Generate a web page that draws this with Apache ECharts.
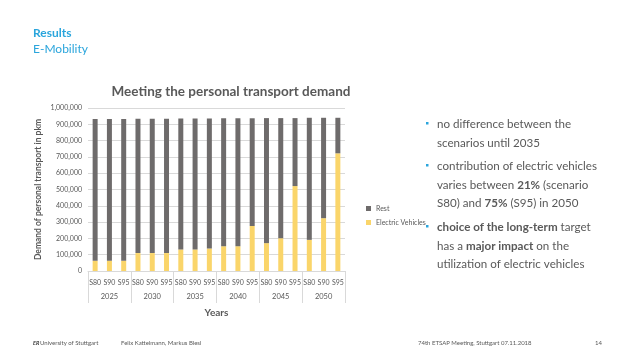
<!DOCTYPE html>
<html><head><meta charset="utf-8">
<script src="https://cdn.jsdelivr.net/npm/echarts@6/dist/echarts.min.js"></script>
<style>html,body{margin:0;padding:0;background:#fff}#c{width:638px;height:359px}</style>
</head><body><div id="c"></div>
<script>
const years = ['2025','2030','2035','2040','2045','2050'];
const scenarios = ['S80','S90','S95','S80','S90','S95','S80','S90','S95','S80','S90','S95','S80','S90','S95','S80','S90','S95'];
const electricVehicles = [63000,63000,63000, 110000,110000,110000, 132000,132000,138000, 152000,152000,276000, 171000,201000,521000, 191000,324000,722000];
const totalDemand = [933000,933000,933000, 934000,934000,934000, 935000,935000,935000, 937000,937000,937000, 938000,938000,938000, 940000,940000,940000];
const yTicks = [0,100000,200000,300000,400000,500000,600000,700000,800000,900000,1000000];

const rest = totalDemand.map((t,i)=>t-electricVehicles[i]);
const FONT = 'Lato, "Open Sans", sans-serif';
const GREY = '#595959';
const BLUE = '#2aa5dc';

const chart = echarts.init(document.getElementById('c'), null, {renderer:'canvas'});
chart.setOption({
  animation:false,
  textStyle:{fontFamily:FONT},
  title:{text:'Meeting the personal transport demand', left:226, textAlign:'center', top:80,
    textStyle:{fontSize:13.5, fontWeight:'bold', color:GREY, fontFamily:FONT}},
  legend:{data:['Rest','Electric Vehicles'], orient:'vertical', left:361, top:200, itemWidth:5, itemHeight:5, itemGap:7,
    icon:'rect', textStyle:{fontSize:7, color:GREY, fontFamily:FONT}},
  grid:{left:88, right:293, top:108, bottom:88, containLabel:false},
  xAxis:[
    {type:'category', data:scenarios, gridIndex:0, position:'bottom',
     axisLine:{lineStyle:{color:'#d9d9d9'}}, axisTick:{show:false},
     axisLabel:{interval:0, fontSize:7, color:GREY, margin:8, fontFamily:FONT}},
    {type:'category', data:years, gridIndex:0, position:'bottom',
     axisLine:{show:false}, axisTick:{show:true, length:32, lineStyle:{color:'#d9d9d9'}},
     axisLabel:{interval:0, fontSize:7.5, color:GREY, margin:22, fontFamily:FONT},
     name:'Years', nameLocation:'middle', nameGap:37,
     nameTextStyle:{fontSize:10, fontWeight:'bold', color:GREY, fontFamily:FONT}}
  ],
  yAxis:{type:'value', min:yTicks[0], max:yTicks[yTicks.length-1], interval:yTicks[1]-yTicks[0],
    axisLine:{show:false}, axisTick:{show:false},
    splitLine:{lineStyle:{color:'#d9d9d9'}},
    axisLabel:{fontSize:7, color:GREY, margin:6, fontFamily:FONT,
      formatter:v=>v.toLocaleString('en-US')},
    name:'Demand of personal transport in pkm', nameLocation:'middle', nameGap:45, nameRotate:90,
    nameTextStyle:{fontSize:8.5, fontWeight:'bold', color:GREY, fontFamily:FONT}},
  series:[
    {name:'Electric Vehicles', type:'bar', stack:'d', data:electricVehicles, barWidth:'35%', xAxisIndex:0,
     itemStyle:{color:'#fad56a'}},
    {name:'Rest', type:'bar', stack:'d', data:rest, barWidth:'35%', xAxisIndex:0,
     itemStyle:{color:'#6e6b6b'}}
  ],
  graphic:[
    {type:'text', left:33, top:27, style:{text:'Results', fontSize:12, fontWeight:'bold', fill:BLUE, fontFamily:FONT}},
    {type:'text', left:33, top:43, style:{text:'E-Mobility', fontSize:12, fill:BLUE, fontFamily:FONT}},
    {type:'rect', shape:{x:426,y:122,width:2.5,height:2.5}, style:{fill:BLUE}},
    {type:'rect', shape:{x:426,y:164,width:2.5,height:2.5}, style:{fill:BLUE}},
    {type:'rect', shape:{x:426,y:225,width:2.5,height:2.5}, style:{fill:BLUE}},
    {type:'text', x:437, y:115, style:{text:'no difference between the\nscenarios until 2035', fontSize:11.6, lineHeight:18.5, fill:GREY, fontFamily:FONT}},
    {type:'text', x:437, y:157, style:{text:'contribution of electric vehicles\nvaries between {b|21%} (scenario\nS80) and {b|75%} (S95) in 2050', fontSize:11.6, lineHeight:18.5, fill:GREY, fontFamily:FONT,
      rich:{b:{fontWeight:'bold', fontSize:11.6, fill:GREY, fontFamily:FONT}}}},
    {type:'text', x:437, y:218, style:{text:'{b|choice of the long-term} target\nhas a {b|major impact} on the\nutilization of electric vehicles', fontSize:11.6, lineHeight:18.5, fill:GREY, fontFamily:FONT,
      rich:{b:{fontWeight:'bold', fontSize:11.6, fill:GREY, fontFamily:FONT}}}},
    {type:'text', x:33, y:340, style:{text:'ER', fontSize:5.5, fontWeight:'bold', fontStyle:'italic', fill:'#333', fontFamily:FONT}},
    {type:'text', x:40, y:340, style:{text:'University of Stuttgart', fontSize:6, fill:GREY, fontFamily:FONT}},
    {type:'text', x:121, y:340, style:{text:'Felix Kattelmann, Markus Blesl', fontSize:6, fill:GREY, fontFamily:FONT}},
    {type:'text', x:418, y:340, style:{text:'74th ETSAP Meeting, Stuttgart 07.11.2018', fontSize:6, fill:GREY, fontFamily:FONT}},
    {type:'text', x:595, y:340, style:{text:'14', fontSize:6, fill:GREY, fontFamily:FONT}}
  ]
});
</script></body></html>
